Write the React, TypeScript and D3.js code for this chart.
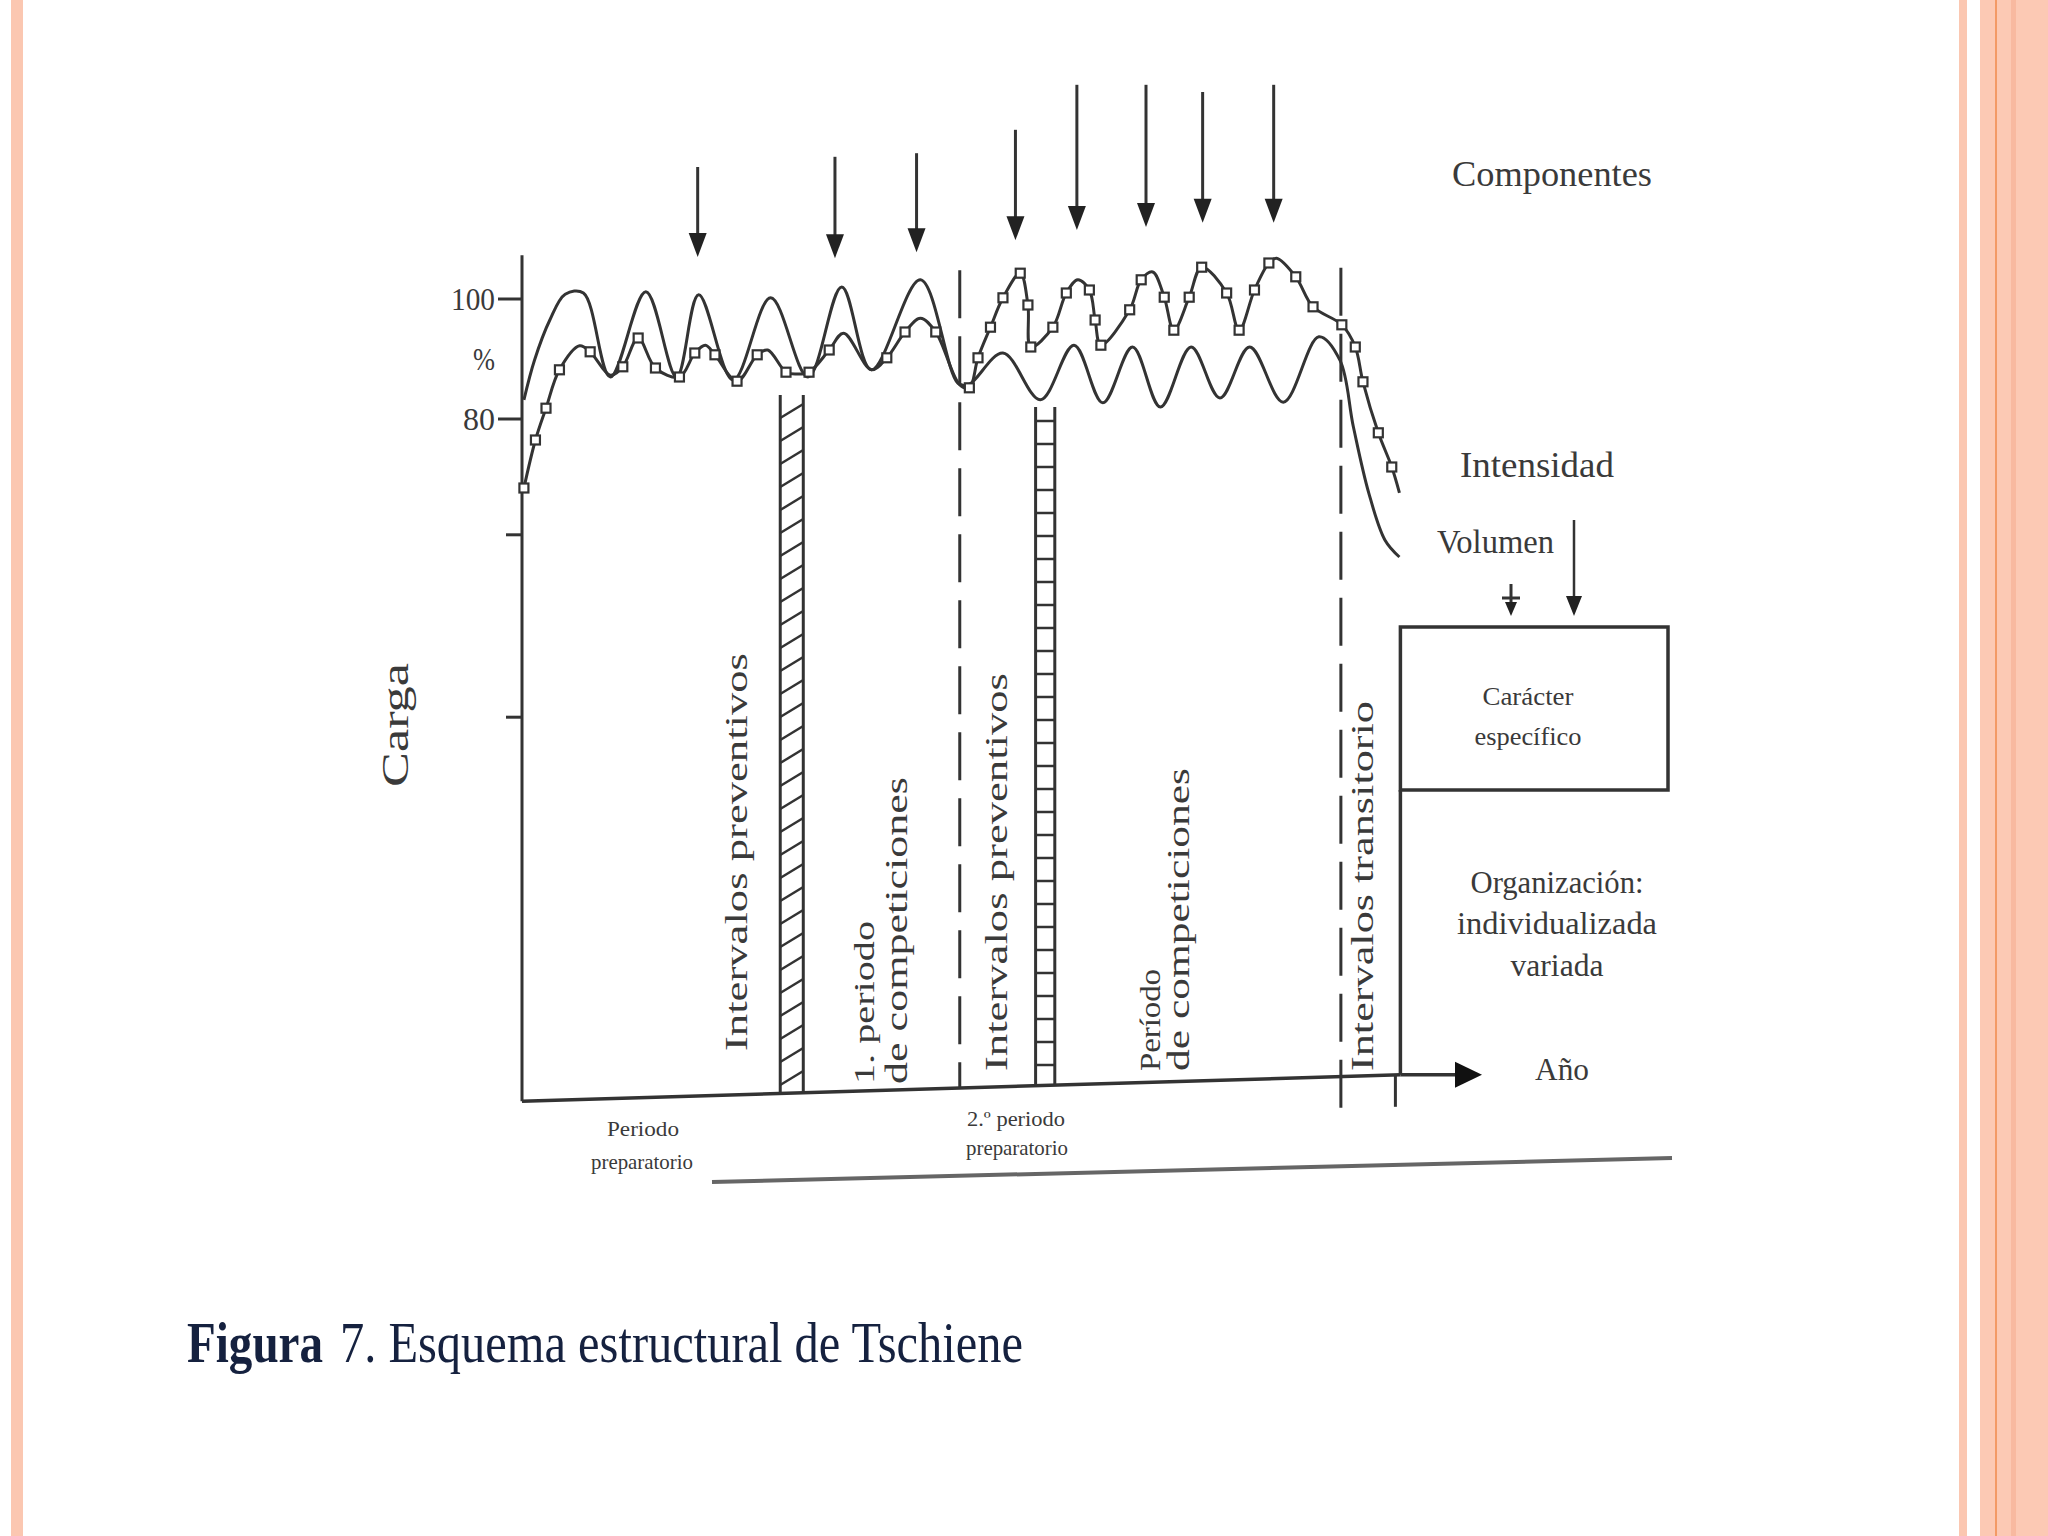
import * as d3 from "d3"

// Volumen (plain line): [t, %]
const volume: [number, number][] = [
  [0.2, 83.2], [1.3, 89.8], [2.9, 96.5], [4.5, 100.8], [6.4, 101], [9.2, 87],
  [12.9, 101.2], [16.1, 87], [18.4, 100.7], [22.0, 86.5], [25.9, 100.2], [29.8, 87],
  [33.3, 102], [36.4, 88.2], [41.5, 103.2], [45.4, 86], [46.5, 85.7], [50.1, 91],
  [54.0, 83.2], [57.5, 92.3], [60.5, 82.7], [63.6, 92], [66.5, 82], [69.7, 92],
  [72.7, 83.5], [75.8, 92], [79.3, 82.8], [83.0, 93.7], [85.2, 89.8], [86.6, 78.7],
  [88.2, 67.7], [89.9, 59.8], [91.4, 57],
]

// Intensidad (line with square markers): [t, %, marker]
const intensity: [number, number, number][] = [
  [0.2, 68.5, 1], [1.4, 76.5, 1], [2.5, 81.8, 1], [3.9, 88.2, 1], [6.0, 92.2, 0], [7.1, 91.2, 1],
  [9.2, 87.3, 0], [10.5, 88.7, 1], [12.1, 93.5, 1], [13.9, 88.5, 1], [16.4, 87, 1], [18.0, 91, 1],
  [19.1, 92.3, 0], [20.1, 90.7, 1], [22.4, 86.3, 1], [24.5, 90.7, 1], [25.6, 91.5, 0], [27.5, 87.8, 1],
  [28.6, 87.5, 0], [29.9, 87.8, 1], [32.0, 91.5, 1], [33.5, 94.3, 0], [36.4, 88.2, 0], [38.0, 90.2, 1],
  [39.9, 94.5, 1], [41.5, 96.8, 0], [43.1, 94.5, 1], [45.6, 85.7, 0], [46.6, 85.2, 1], [47.5, 90.2, 1],
  [48.8, 95.3, 1], [50.1, 100.2, 1], [51.9, 104.3, 1], [52.7, 99, 1], [53.0, 92, 1], [55.3, 95.3, 1],
  [56.7, 101, 1], [57.9, 103.2, 0], [59.1, 101.5, 1], [59.7, 96.5, 1], [60.3, 92.3, 1], [63.3, 98.2, 1],
  [64.5, 103.2, 1], [65.7, 104.5, 0], [66.9, 100.3, 1], [67.9, 94.8, 1], [69.5, 100.3, 1], [70.8, 105.3, 1],
  [73.4, 101, 1], [74.7, 94.8, 1], [76.3, 101.5, 1], [77.8, 106, 1], [78.6, 106.8, 0], [80.6, 103.7, 1],
  [82.4, 98.7, 1], [85.4, 95.7, 1], [86.8, 92, 1], [87.6, 86.2, 1], [89.2, 77.7, 1], [90.6, 72, 1],
  [91.4, 67.7, 0],
]

// Componentes arrows: t, top, tip (in % units)
const arrowT = [18.3, 32.6, 41.1, 51.4, 57.8, 65.0, 70.9, 78.3]
const arrowTop = [122, 123.7, 124.3, 128.2, 135.7, 135.7, 134.5, 135.7]
const arrowTip = [107, 106.8, 107.8, 109.8, 111.5, 112, 112.7, 112.7]

const yTickLabels = ["100", "%", "80"]
const yTickValues = [100, 90, 80]
const yMinorTicks = [60.7, 30.3]

// period boundaries
const hatched = [
  { from: 26.9, to: 29.3, top: 84, slant: true },
  { from: 53.5, to: 55.5, top: 82, slant: false },
]
const dashed = [
  { t: 45.6, top: 104.8 },
  { t: 85.3, top: 105.2 },
]
const boxT = 91.5
const axisEnd = 100

const W = 2048
const H = 1536
const ink = "#333"
const txt = "#3a3a3a"
const serif = "'Liberation Serif', 'Times New Roman', serif"

const x = d3.scaleLinear().domain([0, 100]).range([522, 1482])
const y = d3.scaleLinear().domain([80, 100]).range([419, 299])
const baseV = d3.scaleLinear().domain([0, 91.5]).range([-33.7, -29.3])
const base = (t: number) => y(baseV(t))

const curve = d3
  .line<number[]>()
  .x((d) => x(d[0]))
  .y((d) => y(d[1]))
  .curve(d3.curveCatmullRom.alpha(0.5))

function VText({ cx, bottom, len, size, children }: any) {
  return (
    <text
      transform={`translate(${cx + size * 0.27},${bottom}) rotate(-90)`}
      fontSize={size}
      textLength={len}
      lengthAdjust="spacingAndGlyphs"
      fill={txt}
    >
      {children}
    </text>
  )
}

function HText({ x0, yb, len, size, children, anchor = "start", weight = "normal", fill = txt }: any) {
  return (
    <text
      x={x0}
      y={yb}
      fontSize={size}
      fontWeight={weight}
      textLength={len}
      lengthAdjust="spacingAndGlyphs"
      textAnchor={anchor}
      fill={fill}
    >
      {children}
    </text>
  )
}

function Hatch({ from, to, top, slant }: any) {
  const xl = x(from)
  const xr = x(to)
  const yt = y(top)
  const yb = (base(from) + base(to)) / 2
  const rungs = d3.range(yt + 14, yb - 4, 23)
  return (
    <g stroke={ink} strokeWidth={3} fill="none">
      <line x1={xl} y1={yt} x2={xl} y2={base(from)} />
      <line x1={xr} y1={yt} x2={xr} y2={base(to)} />
      {rungs.map((r, i) => (
        <line key={i} x1={xl} y1={slant ? r + 9 : r} x2={xr} y2={slant ? r - 5 : r} strokeWidth={2.5} />
      ))}
    </g>
  )
}

export default function App() {
  const headW = 9
  const headH = 24
  const boxX = x(boxT)
  const boxR = 1668
  const boxTop = 627
  const boxBottom = 790
  const tipX = x(axisEnd)
  const yAx = base(boxT)

  return (
    <svg width={W} height={H} style={{ position: "absolute", left: 0, top: 0 }} fontFamily={serif}>
      <rect width={W} height={H} fill="#fff" />
      {/* slide borders */}
      <rect x={11} y={0} width={12} height={H} fill="#fbc7b1" />
      <rect x={1959} y={0} width={8} height={H} fill="#fbc7b1" />
      <rect x={1980} y={0} width={68} height={H} fill="#fcc9b4" />
      <rect x={1995} y={0} width={2} height={H} fill="#f39a66" />
      <rect x={2011} y={0} width={5} height={H} fill="#f8b9a0" />

      {/* y axis */}
      <line x1={x(0)} y1={y(107.3)} x2={x(0)} y2={base(0)} stroke={ink} strokeWidth={3} />
      {yTickValues.map((v, i) =>
        yTickLabels[i] === "%" ? null : (
          <line key={v} x1={x(0) - 24} y1={y(v)} x2={x(0)} y2={y(v)} stroke={ink} strokeWidth={3} />
        ),
      )}
      {yMinorTicks.map((v) => (
        <line key={v} x1={x(0) - 16} y1={y(v)} x2={x(0)} y2={y(v)} stroke={ink} strokeWidth={3} />
      ))}
      {yTickValues.map((v, i) => (
        <HText
          key={i}
          x0={495}
          yb={y(v) + 11}
          len={yTickLabels[i] === "100" ? 44 : yTickLabels[i] === "%" ? 22 : 32}
          size={31}
          anchor="end"
        >
          {yTickLabels[i]}
        </HText>
      ))}

      {/* x axis (baseline) */}
      <line x1={x(0)} y1={base(0)} x2={boxX} y2={yAx} stroke={ink} strokeWidth={3.5} />
      <line x1={boxX} y1={yAx} x2={tipX - 20} y2={yAx} stroke={ink} strokeWidth={3.5} />
      <path d={`M${tipX},${yAx} L${tipX - 27},${yAx - 13} L${tipX - 27},${yAx + 13} Z`} fill="#111" />
      <line x1={boxX - 5} y1={yAx} x2={boxX - 5} y2={yAx + 32} stroke={ink} strokeWidth={3} />

      {/* period separators */}
      {hatched.map((h, i) => (
        <Hatch key={i} {...h} />
      ))}
      {dashed.map((d, i) => (
        <line
          key={i}
          x1={x(d.t)}
          y1={y(d.top)}
          x2={x(d.t)}
          y2={base(d.t) + (i === 1 ? 45 : 0)}
          stroke={ink}
          strokeWidth={3}
          strokeDasharray="48 18"
        />
      ))}

      {/* curves */}
      <path d={curve(volume) || ""} fill="none" stroke={ink} strokeWidth={3} />
      <path d={curve(intensity) || ""} fill="none" stroke={ink} strokeWidth={3} />
      {intensity
        .filter((d) => d[2] === 1)
        .map((d, i) => (
          <rect
            key={i}
            x={x(d[0]) - 4.5}
            y={y(d[1]) - 4.5}
            width={9}
            height={9}
            fill="#fff"
            stroke={ink}
            strokeWidth={2.2}
          />
        ))}

      {/* component arrows */}
      {arrowT.map((t, i) => (
        <g key={i}>
          <line x1={x(t)} y1={y(arrowTop[i])} x2={x(t)} y2={y(arrowTip[i]) - headH + 2} stroke={ink} strokeWidth={3} />
          <path
            d={`M${x(t)},${y(arrowTip[i])} L${x(t) - headW},${y(arrowTip[i]) - headH} L${x(t) + headW},${y(arrowTip[i]) - headH} Z`}
            fill="#222"
          />
        </g>
      ))}

      {/* box */}
      <rect x={boxX} y={boxTop} width={boxR - boxX} height={boxBottom - boxTop} fill="none" stroke={ink} strokeWidth={3.5} />
      <line x1={boxX} y1={boxBottom} x2={boxX} y2={yAx} stroke={ink} strokeWidth={3.5} />
      {/* small arrows to box */}
      <line x1={1574} y1={520} x2={1574} y2={598} stroke={ink} strokeWidth={2.5} />
      <path d="M1574,616 L1566,596 L1582,596 Z" fill="#222" />
      <line x1={1511} y1={584} x2={1511} y2={604} stroke={ink} strokeWidth={3} />
      <line x1={1502} y1={598} x2={1520} y2={598} stroke={ink} strokeWidth={3} />
      <path d="M1511,616 L1505,602 L1517,602 Z" fill="#222" />

      {/* labels */}
      <HText x0={1452} yb={186} len={200} size={36}>Componentes</HText>
      <HText x0={1460} yb={477} len={154} size={36}>Intensidad</HText>
      <HText x0={1437} yb={553} len={117} size={34}>Volumen</HText>
      <HText x0={1535} yb={1080} len={54} size={32}>Año</HText>
      <HText x0={1528} yb={705} len={91} size={26} anchor="middle">Carácter</HText>
      <HText x0={1528} yb={745} len={107} size={26} anchor="middle">específico</HText>
      <HText x0={1557} yb={893} len={173} size={32} anchor="middle">Organización:</HText>
      <HText x0={1557} yb={934} len={200} size={32} anchor="middle">individualizada</HText>
      <HText x0={1557} yb={976} len={93} size={32} anchor="middle">variada</HText>

      <HText x0={643} yb={1136} len={72} size={21} anchor="middle">Periodo</HText>
      <HText x0={642} yb={1169} len={102} size={21} anchor="middle">preparatorio</HText>
      <HText x0={1016} yb={1126} len={98} size={21} anchor="middle">2.º periodo</HText>
      <HText x0={1017} yb={1155} len={102} size={21} anchor="middle">preparatorio</HText>

      <VText cx={398} bottom={787} len={124} size={38}>Carga</VText>
      <VText cx={739} bottom={1051} len={398} size={31}>Intervalos preventivos</VText>
      <VText cx={866} bottom={1084} len={163} size={29}>1. periodo</VText>
      <VText cx={899} bottom={1084} len={307} size={31}>de competiciones</VText>
      <VText cx={999} bottom={1071} len={398} size={31}>Intervalos preventivos</VText>
      <VText cx={1152} bottom={1071} len={102} size={29}>Período</VText>
      <VText cx={1181} bottom={1071} len={303} size={31}>de competiciones</VText>
      <VText cx={1365} bottom={1071} len={370} size={31}>Intervalos transitorio</VText>

      {/* bottom rule */}
      <line x1={712} y1={1182} x2={1672} y2={1158} stroke="#666" strokeWidth={4} />

      {/* caption */}
      <HText x0={187} yb={1362} len={136} size={58} weight="bold" fill="#15213f">Figura</HText>
      <HText x0={340} yb={1362} len={683} size={58} fill="#15213f">7. Esquema estructural de Tschiene</HText>
    </svg>
  )
}
